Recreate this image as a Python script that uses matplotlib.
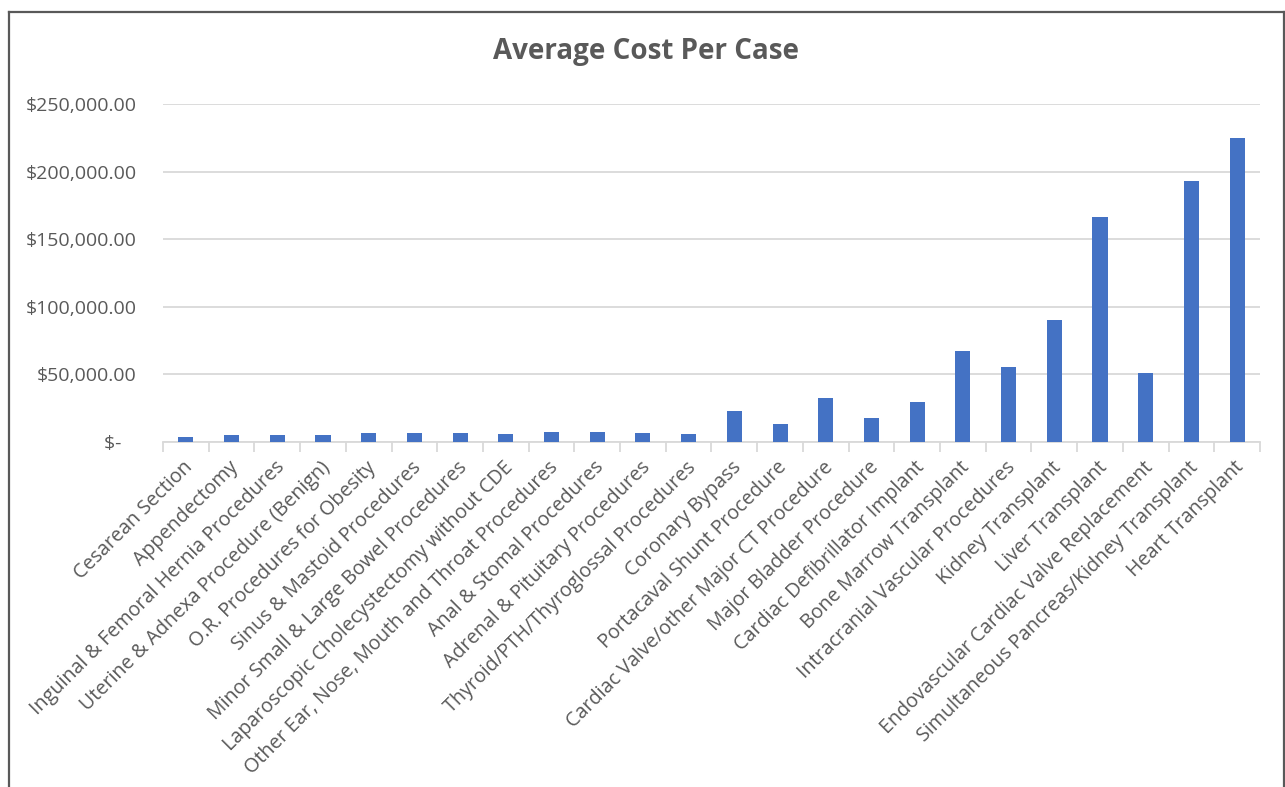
import matplotlib
matplotlib.use("Agg")
import matplotlib.pyplot as plt
from matplotlib.lines import Line2D
from matplotlib.ticker import FixedLocator, FuncFormatter
from matplotlib.transforms import ScaledTranslation
import numpy as np

categories = [
    "Cesarean Section",
    "Appendectomy",
    "Inguinal & Femoral Hernia Procedures",
    "Uterine & Adnexa Procedure (Benign)",
    "O.R. Procedures for Obesity",
    "Sinus & Mastoid Procedures",
    "Minor Small & Large Bowel Procedures",
    "Laparoscopic Cholecystectomy without CDE",
    "Other Ear, Nose, Mouth and Throat Procedures",
    "Anal & Stomal Procedures",
    "Adrenal & Pituitary Procedures",
    "Thyroid/PTH/Thyroglossal Procedures",
    "Coronary Bypass",
    "Portacaval Shunt Procedure",
    "Cardiac Valve/other Major CT Procedure",
    "Major Bladder Procedure",
    "Cardiac Defibrillator Implant",
    "Bone Marrow Transplant",
    "Intracranial Vascular Procedures",
    "Kidney Transplant",
    "Liver Transplant",
    "Endovascular Cardiac Valve Replacement",
    "Simultaneous Pancreas/Kidney Transplant",
    "Heart Transplant",
]
avg_cost = [
    3700, 4950, 4950, 4950, 6700, 6700, 6700, 5900, 7400, 7400, 6700, 6200,
    23000, 13100, 32400, 17600, 29900, 67000, 55200, 90000, 166600, 51000,
    192800, 225000,
]
y_ticks = [0, 50000, 100000, 150000, 200000, 250000]
title = "Average Cost Per Case"

FONT = ["Open Sans", "DejaVu Sans"]
TXT = "#595959"
GRID = "#d9d9d9"
BAR = "#4472c4"

plt.rcParams["font.family"] = FONT

W, H = 1285, 787
fig = plt.figure(figsize=(W / 100, H / 100), dpi=100)
fig.patch.set_facecolor("white")

ax_l, ax_r, ax_t, ax_b = 163, 1260, 104, 442
ax = fig.add_axes([ax_l / W, 1 - ax_b / H, (ax_r - ax_l) / W, (ax_b - ax_t) / H])

x = np.arange(len(categories))
ax.bar(x, avg_cost, width=0.33, color=BAR, zorder=3)

ax.set_xlim(-0.5, len(categories) - 0.5)
ax.set_ylim(0, 250000)

def money(v, pos=None):
    if v == 0:
        return "$-   "
    return "${:,.2f}".format(v)

ax.yaxis.set_major_locator(FixedLocator(y_ticks))
ax.yaxis.set_major_formatter(FuncFormatter(money))
ax.tick_params(axis="y", length=0, pad=19, labelsize=14, labelcolor=TXT)
ax.grid(axis="y", color=GRID, linewidth=1.3, zorder=0)

ax.set_xticks(x)
ax.set_xticklabels(categories, rotation=45, ha="right", va="center",
                   rotation_mode="anchor", fontsize=14.2, color=TXT)
ax.tick_params(axis="x", which="major", length=0, pad=14)
ax.set_xticks(np.arange(-0.5, len(categories), 1.0), minor=True)
ax.tick_params(axis="x", which="minor", length=7, width=1.3, color=GRID)
shift = ScaledTranslation(0.04, -0.03, fig.dpi_scale_trans)
for lab in ax.get_xticklabels():
    lab.set_transform(lab.get_transform() + shift)

for s in ["top", "right", "left"]:
    ax.spines[s].set_visible(False)
ax.spines["bottom"].set_color(GRID)
ax.spines["bottom"].set_linewidth(1.3)

fig.text(646 / W, 1 - 52 / H, title, ha="center", va="center",
         fontsize=20, fontweight="bold", color=TXT)

# outer chart border (bottom edge runs off the picture)
bx0, bx1, by0 = 8.5 / W, 1283.5 / W, 1 - 12 / H
for xs, ys in [([bx0, bx0], [by0, -0.1]), ([bx0, bx1], [by0, by0]), ([bx1, bx1], [by0, -0.1])]:
    fig.add_artist(Line2D(xs, ys, transform=fig.transFigure, color="#595959", linewidth=1.6))

fig.savefig("out.png", dpi=100, facecolor="white")
